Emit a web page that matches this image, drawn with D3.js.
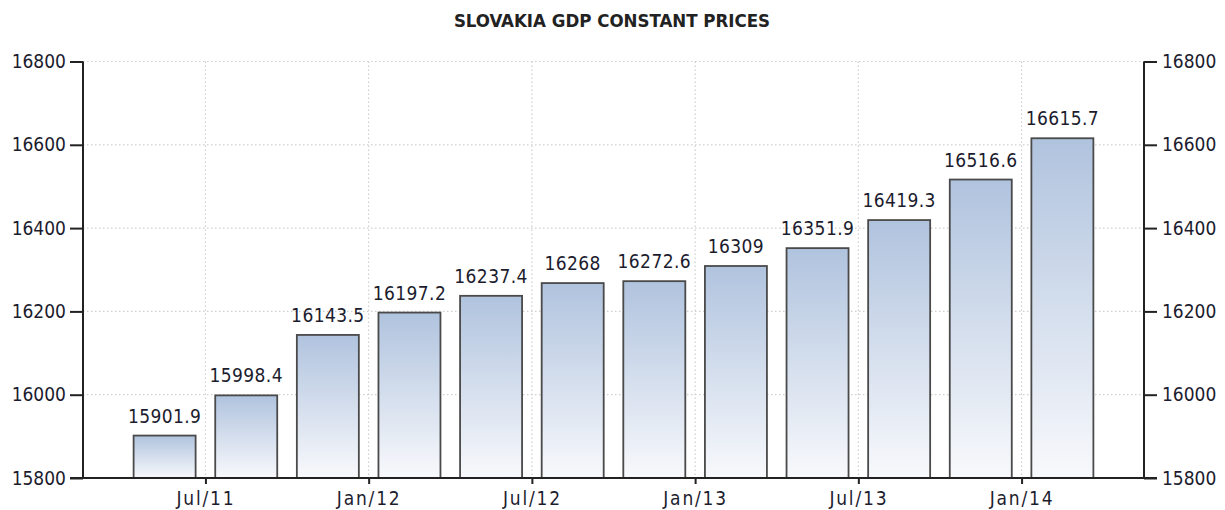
<!DOCTYPE html>
<html>
<head>
<meta charset="utf-8">
<script src="https://cdn.jsdelivr.net/npm/d3@7"></script>
<style>
  body { margin: 0; background: #fff; }
  text { font-family: "DejaVu Sans Condensed", "DejaVu Sans", Verdana, sans-serif; font-stretch: condensed; }
</style>
</head>
<body>
<svg id="chart" width="1225" height="510"></svg>
<script>
// quarters Q2 2011 .. Q1 2014
const quarters = ['2011Q2', '2011Q3', '2011Q4', '2012Q1', '2012Q2', '2012Q3', '2012Q4', '2013Q1', '2013Q2', '2013Q3', '2013Q4', '2014Q1']
const gdp = [15901.9, 15998.4, 16143.5, 16197.2, 16237.4, 16268, 16272.6, 16309, 16351.9, 16419.3, 16516.6, 16615.7]
const gdpLabels = ['15901.9', '15998.4', '16143.5', '16197.2', '16237.4', '16268', '16272.6', '16309', '16351.9', '16419.3', '16516.6', '16615.7']
const xTickPos = [0.5, 2.5, 4.5, 6.5, 8.5, 10.5]
const xTickLabels = ['Jul/11', 'Jan/12', 'Jul/12', 'Jan/13', 'Jul/13', 'Jan/14']
const yTicks = [15800, 16000, 16200, 16400, 16600, 16800]

const svg = d3.select('#chart')
const mLeft = 83, mRight = 1144, mTop = 61.5, mBottom = 478
const fontFam = '"DejaVu Sans Condensed", "DejaVu Sans", Verdana, sans-serif'

const x = d3.scaleLinear().domain([-1, 12]).range([mLeft, mRight])
const y = d3.scaleLinear().domain([15800, 16800]).range([mBottom, mTop])
const barW = 62

const defs = svg.append('defs')
const grad = defs.append('linearGradient')
  .attr('id', 'barGrad')
  .attr('x1', 0).attr('y1', 0).attr('x2', 0).attr('y2', 1)
grad.append('stop').attr('offset', '0%').attr('stop-color', '#b0c3de')
grad.append('stop').attr('offset', '100%').attr('stop-color', '#f8f9fc')

// title
svg.append('text')
  .attr('x', 612)
  .attr('y', 27)
  .attr('text-anchor', 'middle')
  .attr('font-size', '18.5px')
  .attr('font-weight', 'bold')
  .attr('fill', '#222')
  .text('SLOVAKIA GDP CONSTANT PRICES')

// grid
const grid = svg.append('g')
grid.selectAll('line.h')
  .data(yTicks.slice(1))
  .enter()
  .append('line')
  .attr('x1', mLeft).attr('x2', mRight)
  .attr('y1', d => y(d)).attr('y2', d => y(d))
  .attr('stroke', '#cfcfcf')
  .attr('stroke-width', 1.2)
  .attr('stroke-dasharray', '1.5,2.5')
grid.selectAll('line.v')
  .data(xTickPos)
  .enter()
  .append('line')
  .attr('x1', d => x(d)).attr('x2', d => x(d))
  .attr('y1', mTop).attr('y2', mBottom)
  .attr('stroke', '#cfcfcf')
  .attr('stroke-width', 1.2)
  .attr('stroke-dasharray', '1.5,2.5')

// bars
svg.append('g').selectAll('rect')
  .data(gdp)
  .enter()
  .append('rect')
  .attr('x', (d, i) => x(i) - barW / 2)
  .attr('y', d => y(d))
  .attr('width', barW)
  .attr('height', d => mBottom - y(d))
  .attr('fill', 'url(#barGrad)')
  .attr('stroke', '#4a4a4a')
  .attr('stroke-width', 1.8)

// value labels
svg.append('g').selectAll('text')
  .data(gdp)
  .enter()
  .append('text')
  .attr('x', (d, i) => x(i))
  .attr('y', d => y(d) - 13)
  .attr('text-anchor', 'middle')
  .attr('font-size', '19px')
  .attr('letter-spacing', '0.4px')
  .attr('fill', '#1c1c2e')
  .text((d, i) => gdpLabels[i])

// axes
const xAxis = d3.axisBottom(x)
  .tickValues(xTickPos)
  .tickFormat((d, i) => xTickLabels[i])
  .tickSize(6)
  .tickPadding(8)
const yAxisL = d3.axisLeft(y).tickValues(yTicks).tickFormat(d3.format('d')).tickSize(13).tickPadding(4)
const yAxisR = d3.axisRight(y).tickValues(yTicks).tickFormat(d3.format('d')).tickSize(13).tickPadding(5)

function styleAxis(g) {
  g.select('.domain').remove()
  g.selectAll('line').attr('stroke', '#222').attr('stroke-width', 2)
  g.selectAll('text')
    .attr('font-family', fontFam)
    .attr('font-size', '19px')
    .attr('fill', '#1c1c2e')
}

svg.append('g').attr('transform', `translate(0,${mBottom})`).call(xAxis).call(styleAxis)
  .selectAll('text').attr('letter-spacing', '1.8px')
svg.append('g').attr('transform', `translate(${mLeft},0)`).call(yAxisL).call(styleAxis)
svg.append('g').attr('transform', `translate(${mRight},0)`).call(yAxisR).call(styleAxis)

// axis frame lines
svg.append('line')
  .attr('x1', mLeft - 13).attr('x2', mRight + 13)
  .attr('y1', mBottom).attr('y2', mBottom)
  .attr('stroke', '#222').attr('stroke-width', 2)
svg.append('line')
  .attr('x1', mLeft).attr('x2', mLeft)
  .attr('y1', mTop).attr('y2', mBottom)
  .attr('stroke', '#222').attr('stroke-width', 2)
svg.append('line')
  .attr('x1', mRight).attr('x2', mRight)
  .attr('y1', mTop).attr('y2', mBottom)
  .attr('stroke', '#222').attr('stroke-width', 2)
</script>
</body>
</html>
